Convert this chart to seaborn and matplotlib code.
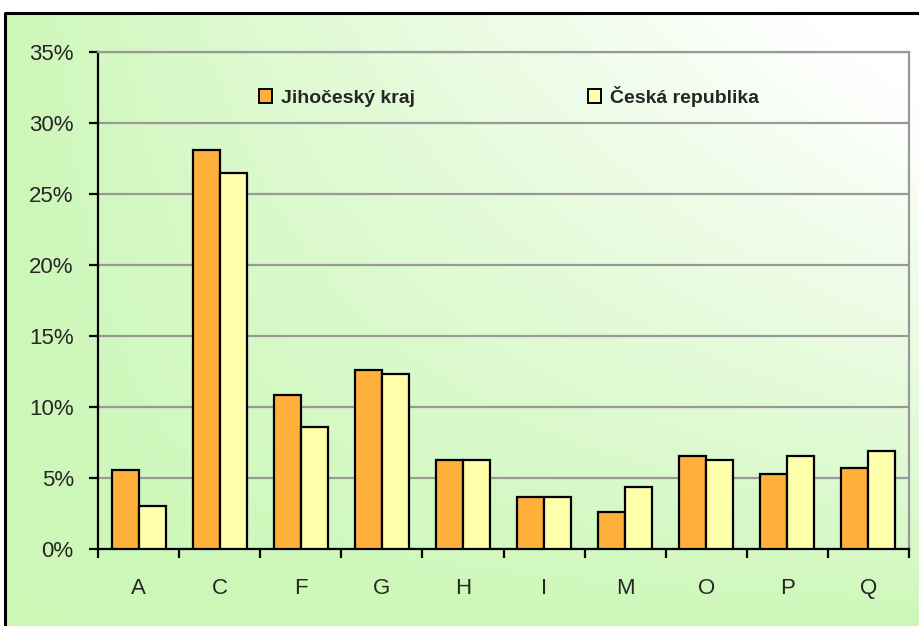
import numpy as np
import pandas as pd
import matplotlib
matplotlib.use("Agg")
import matplotlib.pyplot as plt
from matplotlib.patches import Rectangle
import seaborn as sns

categories = ["A", "C", "F", "G", "H", "I", "M", "O", "P", "Q"]
series_names = ["Jihočeský kraj", "Česká republika"]
jihocesky = [5.56, 28.1, 10.82, 12.6, 6.27, 3.64, 2.6, 6.57, 5.26, 5.7]
cr = [3.05, 26.5, 8.61, 12.32, 6.27, 3.64, 4.39, 6.27, 6.57, 6.88]
y_ticks = [0, 5, 10, 15, 20, 25, 30, 35]
colors = ["#FFB03B", "#FFFFAA"]

df = pd.DataFrame({
    "cat": categories * 2,
    "series": [series_names[0]] * len(categories) + [series_names[1]] * len(categories),
    "val": jihocesky + cr,
})

sns.set_theme(style="white")
plt.rcParams["font.family"] = ["Liberation Sans", "DejaVu Sans"]

W, H = 920, 626
fig = plt.figure(figsize=(W / 100, H / 100), dpi=100)
fig.patch.set_facecolor("white")

# gradient background (figure level)
bg = fig.add_axes([0, 0, 1, 1], zorder=-10)
ny, nx = 300, 460
xx = np.linspace(0, 1, nx)[None, :]
yy = np.linspace(0, 1, ny)[:, None]  # 0 at top
t = np.clip(xx ** 0.9 * (1 - yy) ** 0.8 * 1.15, 0, 1)
green = np.array([0.80, 0.97, 0.72])
white = np.array([1.0, 1.0, 1.0])
img = green[None, None, :] * (1 - t[..., None]) + white[None, None, :] * t[..., None]
bg.imshow(img, aspect="auto", extent=[0, 1, 0, 1], origin="upper")
bg.set_xlim(0, 1)
bg.set_ylim(0, 1)
top_frame = 1 - 13 / H
bg.add_patch(Rectangle((0, top_frame), 1, 1 - top_frame, color="white", zorder=2))
bg.add_patch(Rectangle((0, 0), 5 / W, 1, color="white", zorder=2))
bg.plot([5 / W, 5 / W, 1.01], [-0.01, top_frame, top_frame], color="black", lw=2.2, zorder=3, clip_on=False)
bg.axis("off")

ax = fig.add_axes([98 / W, 1 - 549 / H, (909 - 98) / W, (549 - 52) / H])
ax.set_facecolor("none")

sns.barplot(data=df, x="cat", y="val", hue="series", palette=colors, order=categories,
            hue_order=series_names, width=0.667, edgecolor="black", linewidth=1.6,
            ax=ax, legend=False, zorder=3, saturation=1)

ax.set_ylim(0, 35)
ax.set_xlim(-0.5, len(categories) - 0.5)
ax.set_yticks(y_ticks)
ax.set_yticklabels([f"{v}%" for v in y_ticks], fontsize=16)
ax.yaxis.grid(True, color="#999999", lw=1.6, zorder=0)
ax.set_axisbelow(True)
ax.set_xlabel("")
ax.set_ylabel("")

ax.set_xticks(range(len(categories)))
ax.set_xticklabels(categories, fontsize=16)
ax.set_xticks(np.arange(-0.5, len(categories), 1), minor=True)
ax.tick_params(axis="x", which="major", length=0, pad=21)
ax.tick_params(axis="x", which="minor", length=6.5, width=1.6, direction="out", color="black", bottom=True)
ax.tick_params(axis="y", which="major", length=6.5, width=1.6, direction="out", color="black", left=True, pad=11)

for s in ["left", "bottom"]:
    ax.spines[s].set_color("black")
    ax.spines[s].set_linewidth(1.6)
for s in ["right", "top"]:
    ax.spines[s].set_color("#999999")
    ax.spines[s].set_linewidth(1.6)

handles = [Rectangle((0, 0), 1, 1, facecolor=c, edgecolor="black", lw=1.4) for c in colors]
leg = ax.legend(handles, series_names, loc="center left", bbox_to_anchor=(0.198, 0.911),
                ncol=2, frameon=False, prop={"weight": "bold", "size": 14},
                handlelength=0.68, handleheight=0.68, handletextpad=0.45, columnspacing=8.9,
                borderpad=0, borderaxespad=0)

fig.savefig("out.png", dpi=100)
